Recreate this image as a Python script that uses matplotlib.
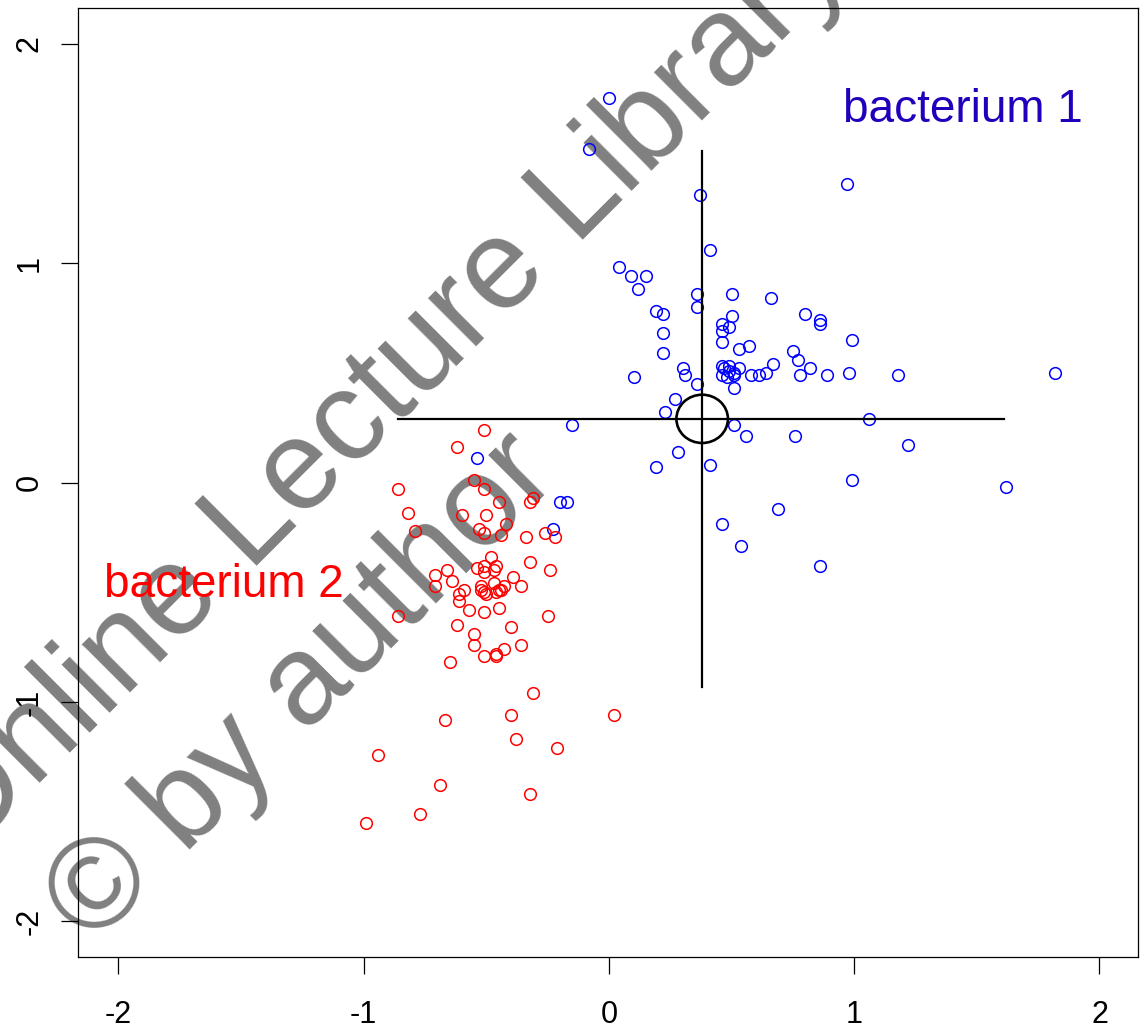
import matplotlib
matplotlib.use("Agg")
import matplotlib.pyplot as plt
from matplotlib.patches import Ellipse

plt.rcParams['font.family'] = ['Liberation Sans', 'DejaVu Sans']
plt.rcParams['axes.unicode_minus'] = False

# bacterium 1 (blue circles)
b1_x = [0.00, -0.08, 0.37, 0.97, 0.41, 0.04, 0.09, 0.15, 0.12, 0.36,
        0.50, 0.66, 0.19, 0.22, 0.36, 0.50, 0.80, 0.86, 0.86, 0.46,
        0.49, 0.46, 0.22, 0.46, 0.99, 0.22, 0.53, 0.57, 0.75, 0.77,
        0.67, 0.30, 0.31, 0.10, 0.46, 0.49, 0.47, 0.49, 0.46, 0.48,
        0.51, 0.51, 0.53, 0.58, 0.61, 0.64, 0.82, 0.78, 0.89, 0.98,
        1.18, 1.82, 0.36, 0.51, 0.27, 0.23, 0.51, 0.56, 0.76, 1.06,
        1.22, 0.28, 0.19, 0.41, 0.99, 1.62, 0.69, 0.46, 0.54, 0.86,
        -0.15, -0.54, -0.20, -0.17, -0.23]
b1_y = [1.75, 1.52, 1.31, 1.36, 1.06, 0.98, 0.94, 0.94, 0.88, 0.86,
        0.86, 0.84, 0.78, 0.77, 0.80, 0.76, 0.77, 0.74, 0.72, 0.72,
        0.71, 0.69, 0.68, 0.64, 0.65, 0.59, 0.61, 0.62, 0.60, 0.56,
        0.54, 0.52, 0.49, 0.48, 0.53, 0.53, 0.52, 0.51, 0.49, 0.48,
        0.49, 0.50, 0.52, 0.49, 0.49, 0.50, 0.52, 0.49, 0.49, 0.50,
        0.49, 0.50, 0.45, 0.43, 0.38, 0.32, 0.26, 0.21, 0.21, 0.29,
        0.17, 0.14, 0.07, 0.08, 0.01, -0.02, -0.12, -0.19, -0.29, -0.38,
        0.26, 0.11, -0.09, -0.09, -0.21]

# bacterium 2 (red circles)
b2_x = [-0.51, -0.62, -0.55, -0.51, -0.45, -0.31, -0.32, -0.60, -0.50, -0.42,
        -0.53, -0.51, -0.44, -0.34, -0.26, -0.22, -0.48, -0.32, -0.86, -0.82,
        -0.79, -0.51, -0.54, -0.51, -0.47, -0.46, -0.24, -0.71, -0.66, -0.71,
        -0.64, -0.39, -0.36, -0.47, -0.43, -0.52, -0.52, -0.51, -0.50, -0.46,
        -0.45, -0.44, -0.59, -0.61, -0.61, -0.57, -0.51, -0.45, -0.86, -0.25,
        -0.62, -0.40, -0.55, -0.55, -0.36, -0.43, -0.46, -0.46, -0.51, -0.65,
        -0.31, -0.40, 0.02, -0.67, -0.38, -0.21, -0.94, -0.69, -0.32, -0.77,
        -0.99]
b2_y = [0.24, 0.16, 0.01, -0.03, -0.09, -0.07, -0.09, -0.15, -0.15, -0.19,
        -0.21, -0.23, -0.24, -0.25, -0.23, -0.25, -0.34, -0.36, -0.03, -0.14,
        -0.22, -0.38, -0.39, -0.41, -0.40, -0.38, -0.40, -0.42, -0.40, -0.47,
        -0.45, -0.43, -0.47, -0.46, -0.47, -0.47, -0.49, -0.50, -0.51, -0.50,
        -0.49, -0.49, -0.49, -0.51, -0.54, -0.58, -0.59, -0.57, -0.61, -0.61,
        -0.65, -0.66, -0.69, -0.74, -0.74, -0.76, -0.78, -0.79, -0.79, -0.82,
        -0.96, -1.06, -1.06, -1.08, -1.17, -1.21, -1.24, -1.38, -1.42, -1.51,
        -1.55]

# cross through the centre of bacterium 1
centre_x, centre_y = 0.38, 0.29
cross_x = [-0.86, 1.61]
cross_y = [-0.93, 1.51]
circle_w, circle_h = 0.21, 0.22

ticks = [-2, -1, 0, 1, 2]
tick_labels = ['-2', '-1', '0', '1', '2']

fig = plt.figure(figsize=(11.45, 10.36), dpi=100)
ax = fig.add_axes([78 / 1145, 1 - 957 / 1036, 1060 / 1145, 949 / 1036])
ax.set_xlim(-2.165, 2.157)
ax.set_ylim(-2.162, 2.162)

ax.plot(b1_x, b1_y, 'o', ms=8.4, mfc='none', mec='#0000FF', mew=1.1, zorder=3)
ax.plot(b2_x, b2_y, 'o', ms=8.4, mfc='none', mec='#FF0000', mew=1.1, zorder=3)

ax.plot(cross_x, [centre_y, centre_y], color='black', lw=1.6, zorder=4)
ax.plot([centre_x, centre_x], cross_y, color='black', lw=1.6, zorder=4)
ax.add_patch(Ellipse((centre_x, centre_y), circle_w, circle_h, fill=False,
                     ec='black', lw=1.9, zorder=4))

ax.text(1.443, 1.642, 'bacterium 1', color='#2200BB', fontsize=33,
        ha='center', va='baseline', zorder=5)
ax.text(-1.57, -0.522, 'bacterium 2', color='#FF0000', fontsize=33,
        ha='center', va='baseline', zorder=5)

# watermark
ax.text(-36 / 1145, 1 - 859 / 1036, 'Online Lecture Library', transform=fig.transFigure,
        fontsize=92, color='#808080', rotation=45, rotation_mode='anchor',
        ha='left', va='baseline', clip_on=False, zorder=1)
ax.text(93 / 1145, 1 - 947 / 1036, '\u00a9 by author', transform=fig.transFigure,
        fontsize=92, color='#808080', rotation=45, rotation_mode='anchor',
        ha='left', va='baseline', clip_on=False, zorder=1)

ax.set_xticks(ticks)
ax.set_xticklabels(tick_labels)
ax.set_yticks(ticks)
ax.set_yticklabels(tick_labels, rotation=90, va='center')
ax.tick_params(axis='both', direction='out', length=12, width=0.9, labelsize=22)
ax.tick_params(axis='x', pad=19)
ax.tick_params(axis='y', pad=12)
for s in ax.spines.values():
    s.set_linewidth(0.9)

fig.savefig('out.png', dpi=100)
